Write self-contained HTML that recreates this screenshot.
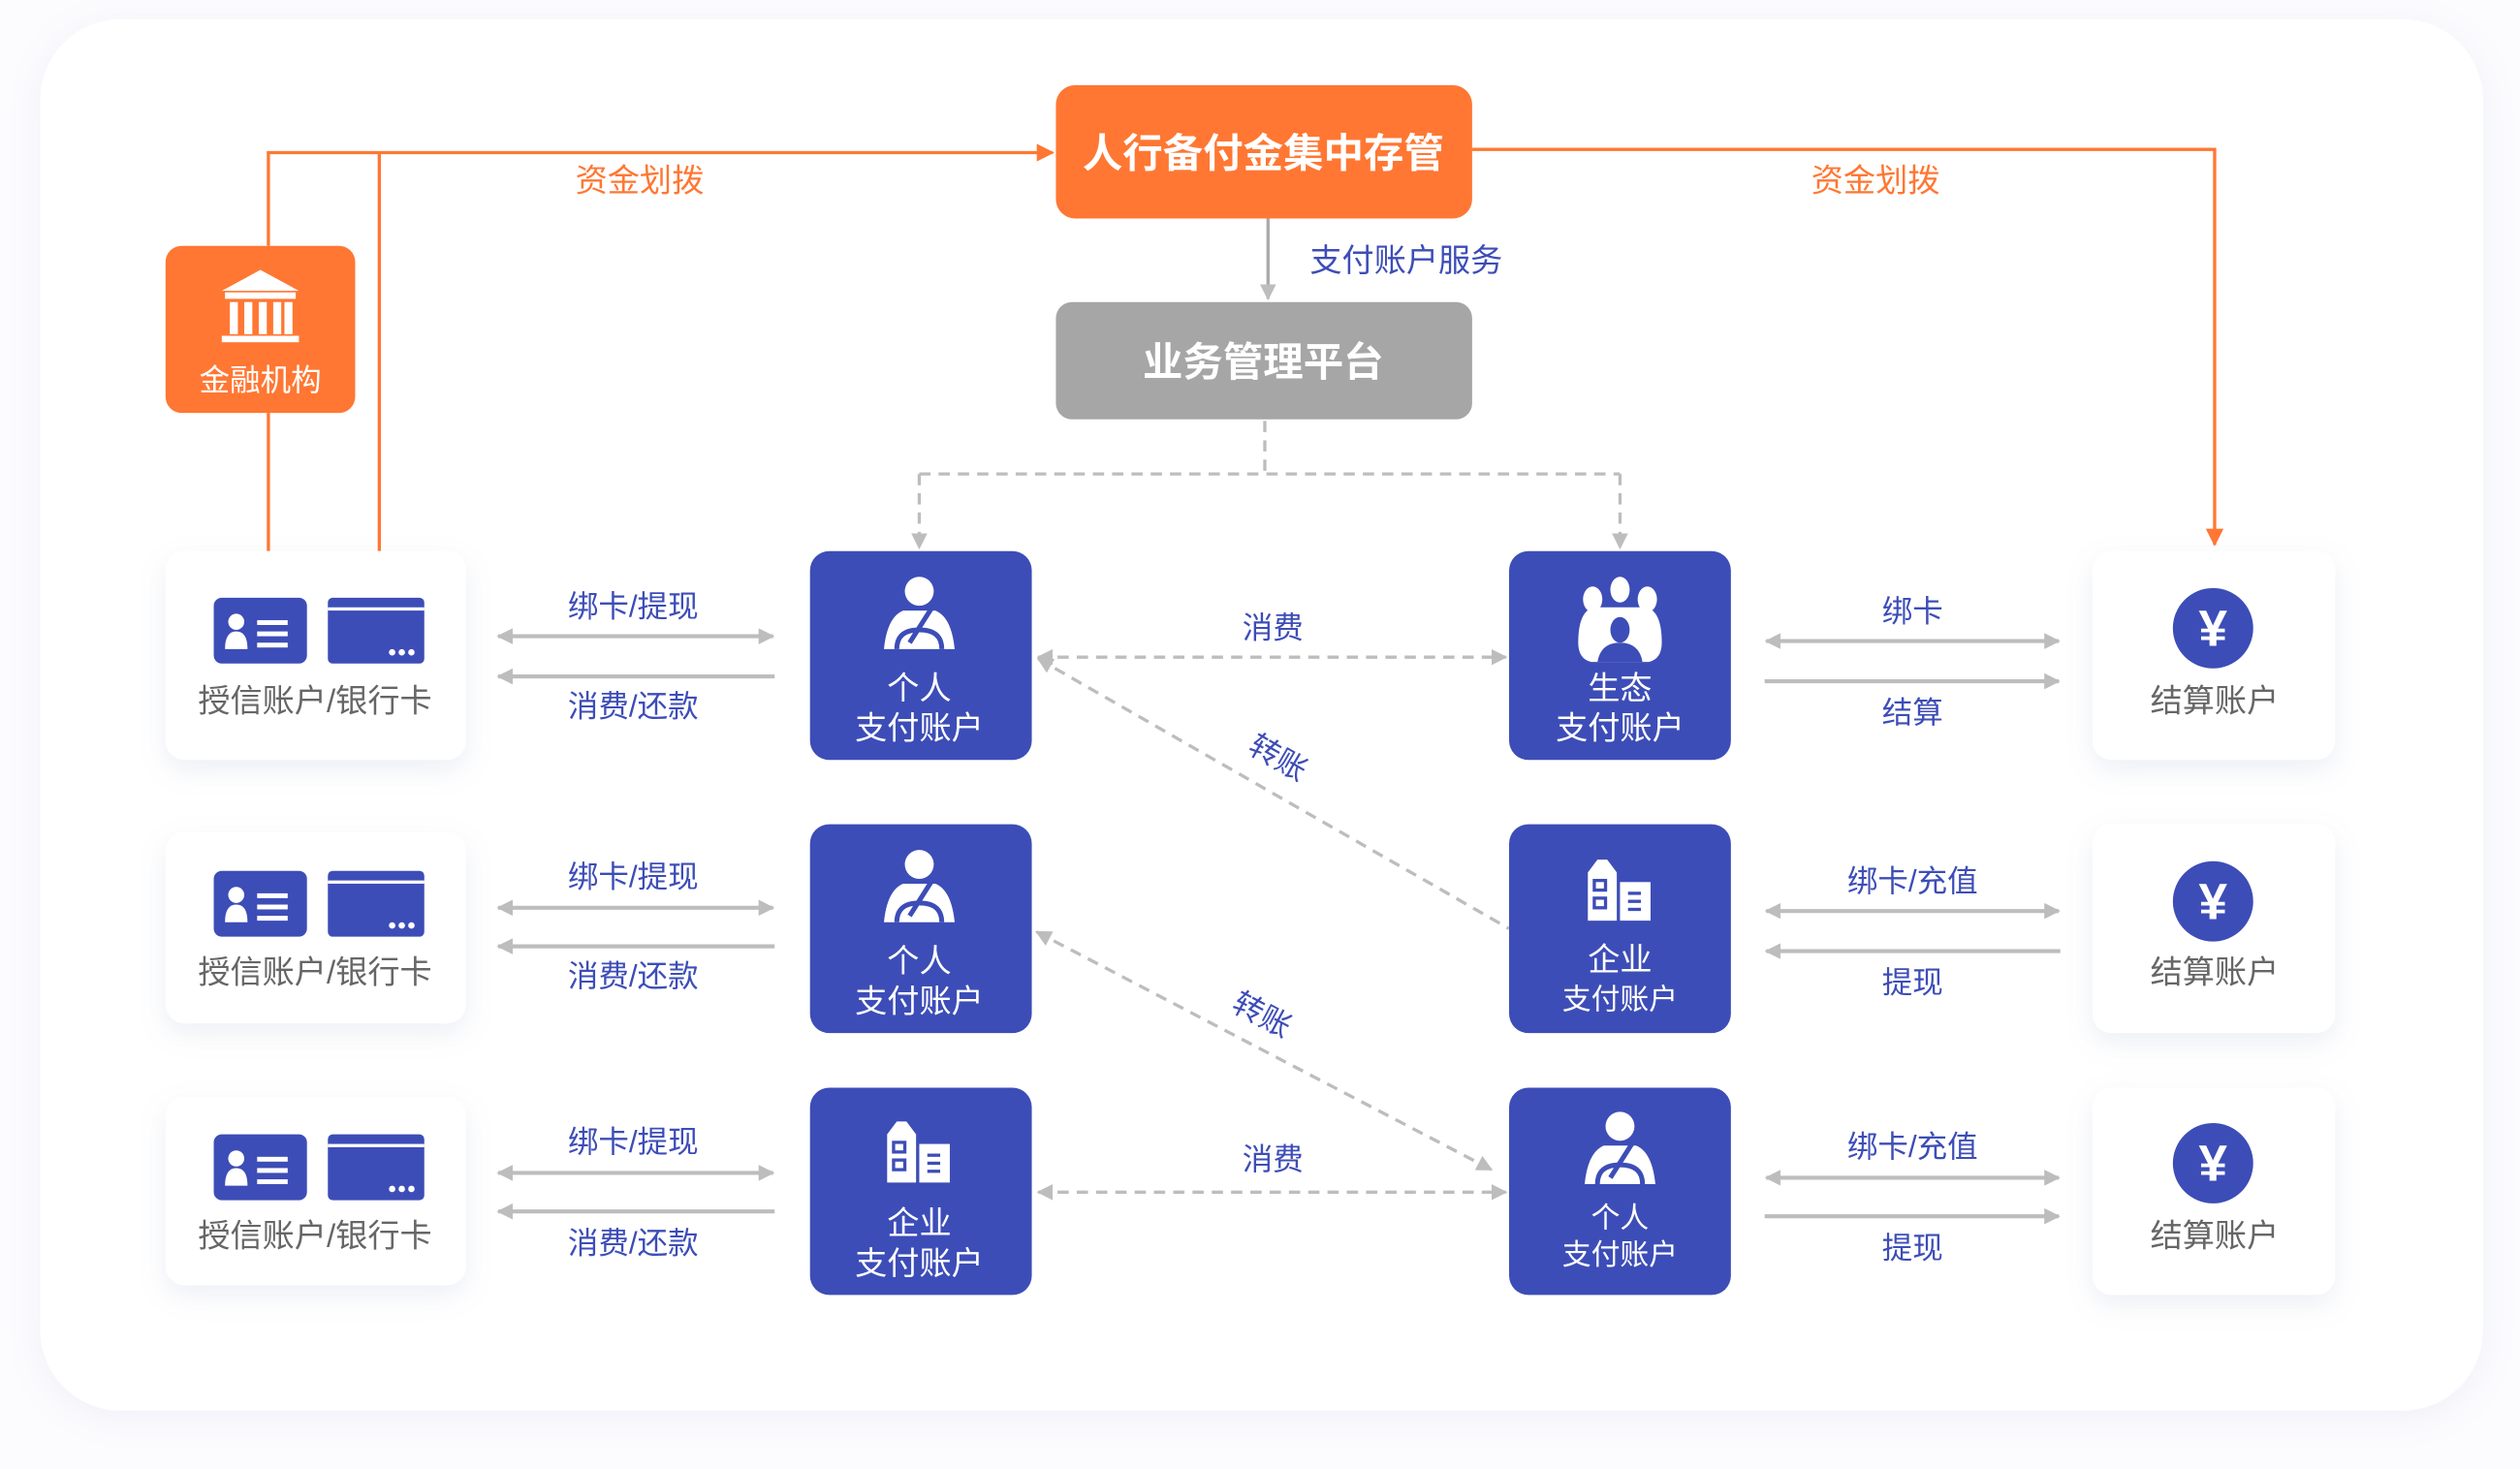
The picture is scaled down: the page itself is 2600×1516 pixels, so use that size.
<!DOCTYPE html>
<html><head><meta charset="utf-8"><style>
html,body{margin:0;padding:0;background:#fff;}
svg{display:block;}
text{font-family:"Liberation Sans","Noto Sans CJK SC",sans-serif;}
</style></head><body>
<svg width="2600" height="1516" viewBox="0 0 1568 914.3" preserveAspectRatio="none" xmlns="http://www.w3.org/2000/svg">
<defs>
<filter id="sh" x="-20%" y="-20%" width="140%" height="150%"><feDropShadow dx="0" dy="6" stdDeviation="8" flood-color="#8890c0" flood-opacity="0.15"/></filter>
<filter id="sh2" x="-5%" y="-5%" width="110%" height="115%"><feDropShadow dx="0" dy="4" stdDeviation="10" flood-color="#9098c8" flood-opacity="0.12"/></filter>
<marker id="ag" viewBox="0 0 10 10" refX="9" refY="5" markerWidth="10" markerHeight="10" markerUnits="userSpaceOnUse" orient="auto-start-reverse"><path d="M0,0 L10,5 L0,10 z" fill="#bdbdbd"/></marker>
<marker id="ao" viewBox="0 0 10 10" refX="9" refY="5" markerWidth="11" markerHeight="11" markerUnits="userSpaceOnUse" orient="auto-start-reverse"><path d="M0,0 L10,5 L0,10 z" fill="#ff7733"/></marker>
<g id="idc"><rect x="0" y="0" width="58" height="41" rx="5" fill="#3d4db7"/><circle cx="14" cy="15" r="5" fill="#fff"/><path d="M7,32 q0,-11 7,-11 q7,0 7,11z" fill="#fff"/><rect x="27" y="14" width="19" height="3" fill="#fff"/><rect x="27" y="21" width="19" height="3" fill="#fff"/><rect x="27" y="28" width="19" height="3" fill="#fff"/>
<rect x="71" y="0" width="60" height="41" rx="3" fill="#3d4db7"/><rect x="71" y="6" width="60" height="2" fill="#fff"/><circle cx="111" cy="34" r="2" fill="#fff"/><circle cx="117" cy="34" r="2" fill="#fff"/><circle cx="123" cy="34" r="2" fill="#fff"/></g>
<g id="person"><circle cx="0" cy="-12" r="9" fill="#fff"/><path d="M-22,24 q2,-20 12,-24 l10,0 l10,0 q10,4 12,24z" fill="#fff"/><path d="M-14,24 q0,-12 14,-12 q14,0 14,12" fill="none" stroke="#3d4db7" stroke-width="3"/><path d="M-6,20 L8,-2" stroke="#3d4db7" stroke-width="3"/></g>
<g id="bldg"><path d="M-20,-22 l6,-8 l6,0 l6,8 l0,30 l-18,0z" fill="#fff"/><rect x="0" y="-16" width="19" height="24" fill="#fff"/><rect x="-16" y="-17" width="7" height="6" fill="none" stroke="#3d4db7" stroke-width="2"/><rect x="-16" y="-6" width="7" height="6" fill="none" stroke="#3d4db7" stroke-width="2"/><rect x="5" y="-10" width="8" height="2" fill="#3d4db7"/><rect x="5" y="-5" width="8" height="2" fill="#3d4db7"/><rect x="5" y="0" width="8" height="2" fill="#3d4db7"/></g>
<g id="yen"><circle cx="0" cy="0" r="25" fill="#3d4db7"/><text x="0" y="11" text-anchor="middle" font-size="32" font-weight="bold" fill="#fff">¥</text></g>
</defs>
<rect width="1568" height="914.3" fill="#fcfcfe"/>
<rect x="25" y="12" width="1520" height="866" rx="50" fill="#fff" filter="url(#sh2)"/>

<g stroke="#ff7733" stroke-width="2" fill="none">
<path d="M167,153 L167,95 L655,95" marker-end="url(#ao)"/>
<path d="M236,95 L236,343"/>
<path d="M167,257 L167,343"/>
<path d="M916,93 L1378,93 L1378,339" marker-end="url(#ao)"/>
</g>
<text x="398" y="119" text-anchor="middle" font-size="20" fill="#ff7733">资金划拨</text>
<text x="1167" y="119" text-anchor="middle" font-size="20" fill="#ff7733">资金划拨</text>

<rect x="657" y="53" width="259" height="83" rx="12" fill="#ff7733"/>
<text x="786" y="104" text-anchor="middle" font-size="25" font-weight="bold" fill="#fff">人行备付金集中存管</text>
<line x1="789" y1="136" x2="789" y2="186" stroke="#aaa" stroke-width="2" marker-end="url(#ag)"/>
<text x="815" y="169" font-size="20" fill="#3d4db7">支付账户服务</text>
<rect x="657" y="188" width="259" height="73" rx="10" fill="#a6a6a6"/>
<text x="786" y="234" text-anchor="middle" font-size="25" font-weight="bold" fill="#fff">业务管理平台</text>

<rect x="103" y="153" width="118" height="104" rx="10" fill="#ff7733"/>
<g fill="#fff"><path d="M162,168 L186,181 L138,181z"/><rect x="140" y="182" width="44" height="4"/><rect x="143" y="188" width="5" height="20"/><rect x="152" y="188" width="5" height="20"/><rect x="161" y="188" width="5" height="20"/><rect x="170" y="188" width="5" height="20"/><rect x="177" y="188" width="5" height="20"/><rect x="138" y="209" width="48" height="4"/></g>
<text x="162" y="243" text-anchor="middle" font-size="19" fill="#fff">金融机构</text>

<g stroke="#bdbdbd" stroke-width="2" fill="none" stroke-dasharray="7,5">
<path d="M787,262 L787,295"/>
<path d="M572,295 L1008,295"/>
<path d="M572,295 L572,341" marker-end="url(#ag)"/>
<path d="M1008,295 L1008,341" marker-end="url(#ag)"/>
<path d="M646,409 L937,409" marker-start="url(#ag)" marker-end="url(#ag)"/>
<path d="M646,410 L939,578" marker-start="url(#ag)"/>
<path d="M645,580 L928,728" marker-start="url(#ag)" marker-end="url(#ag)"/>
<path d="M646,742 L937,742" marker-start="url(#ag)" marker-end="url(#ag)"/>
</g>
<text x="792" y="397" text-anchor="middle" font-size="19" fill="#3d4db7">消费</text>
<text x="792" y="728" text-anchor="middle" font-size="19" fill="#3d4db7">消费</text>
<text x="795" y="478" text-anchor="middle" font-size="19" fill="#3d4db7" transform="rotate(30 795 472)">转账</text>
<text x="785" y="638" text-anchor="middle" font-size="19" fill="#3d4db7" transform="rotate(28 785 632)">转账</text>

<g filter="url(#sh)" fill="#fff">
<rect x="103" y="343" width="187" height="130" rx="12"/>
<rect x="103" y="518" width="187" height="119" rx="12"/>
<rect x="103" y="683" width="187" height="117" rx="12"/>
<rect x="1302" y="343" width="151" height="130" rx="12"/>
<rect x="1302" y="513" width="151" height="130" rx="12"/>
<rect x="1302" y="677" width="151" height="129" rx="12"/>
</g>
<use href="#idc" x="133" y="372"/>
<use href="#idc" x="133" y="542"/>
<use href="#idc" x="133" y="706"/>
<g font-size="20" fill="#666" text-anchor="middle">
<text x="196" y="443">授信账户/银行卡</text>
<text x="196" y="612">授信账户/银行卡</text>
<text x="196" y="776">授信账户/银行卡</text>
<text x="1378" y="443">结算账户</text>
<text x="1378" y="612">结算账户</text>
<text x="1378" y="776">结算账户</text>
</g>
<use href="#yen" x="1377" y="391"/>
<use href="#yen" x="1377" y="561"/>
<use href="#yen" x="1377" y="724"/>

<g stroke="#bdbdbd" stroke-width="2.5" fill="none">
<path d="M310,396 L481,396" marker-start="url(#ag)" marker-end="url(#ag)"/>
<path d="M310,421 L482,421" marker-start="url(#ag)"/>
<path d="M310,565 L481,565" marker-start="url(#ag)" marker-end="url(#ag)"/>
<path d="M310,589 L482,589" marker-start="url(#ag)"/>
<path d="M310,730 L481,730" marker-start="url(#ag)" marker-end="url(#ag)"/>
<path d="M310,754 L482,754" marker-start="url(#ag)"/>
<path d="M1099,399 L1281,399" marker-start="url(#ag)" marker-end="url(#ag)"/>
<path d="M1098,424 L1281,424" marker-end="url(#ag)"/>
<path d="M1099,567 L1281,567" marker-start="url(#ag)" marker-end="url(#ag)"/>
<path d="M1099,592 L1282,592" marker-start="url(#ag)"/>
<path d="M1099,733 L1281,733" marker-start="url(#ag)" marker-end="url(#ag)"/>
<path d="M1098,757 L1281,757" marker-end="url(#ag)"/>
</g>
<g font-size="19" fill="#3d4db7" text-anchor="middle">
<text x="394" y="384">绑卡/提现</text><text x="394" y="446">消费/还款</text>
<text x="394" y="552">绑卡/提现</text><text x="394" y="614">消费/还款</text>
<text x="394" y="717">绑卡/提现</text><text x="394" y="780">消费/还款</text>
<text x="1190" y="387">绑卡</text><text x="1190" y="450">结算</text>
<text x="1190" y="555">绑卡/充值</text><text x="1190" y="618">提现</text>
<text x="1190" y="720">绑卡/充值</text><text x="1190" y="783">提现</text>
</g>

<g fill="#3d4db7">
<rect x="504" y="343" width="138" height="130" rx="12"/>
<rect x="504" y="513" width="138" height="130" rx="12"/>
<rect x="504" y="677" width="138" height="129" rx="12"/>
<rect x="939" y="343" width="138" height="130" rx="12"/>
<rect x="939" y="513" width="138" height="130" rx="12"/>
<rect x="939" y="677" width="138" height="129" rx="12"/>
</g>
<use href="#person" x="572" y="380"/>
<use href="#person" x="572" y="550"/>
<use href="#bldg" x="572" y="728"/>
<use href="#bldg" x="1008" y="565"/>
<use href="#person" x="1008" y="713"/>
<g fill="#fff"><ellipse cx="991" cy="373" rx="6" ry="8"/><ellipse cx="1008" cy="367" rx="6" ry="8"/><ellipse cx="1025" cy="373" rx="6" ry="8"/><path d="M982,400 q0,-20 10,-22 l32,0 q10,2 10,22 q0,10 -8,12 l-36,0 q-8,-2 -8,-12z"/></g>
<g fill="#3d4db7"><ellipse cx="1008" cy="392" rx="6" ry="8"/><path d="M994,412 q2,-12 14,-12 q12,0 14,12z"/></g>
<g font-size="20" fill="#fff" text-anchor="middle">
<text x="572" y="435">个人</text><text x="572" y="460">支付账户</text>
<text x="572" y="605">个人</text><text x="572" y="630">支付账户</text>
<text x="572" y="768">企业</text><text x="572" y="793">支付账户</text>
<text x="1008" y="435">生态</text><text x="1008" y="460">支付账户</text>
<text x="1008" y="604">企业</text><text x="1008" y="628" font-size="18">支付账户</text>
<text x="1008" y="764" font-size="18">个人</text><text x="1008" y="787" font-size="18">支付账户</text>
</g>
</svg>
</body></html>
